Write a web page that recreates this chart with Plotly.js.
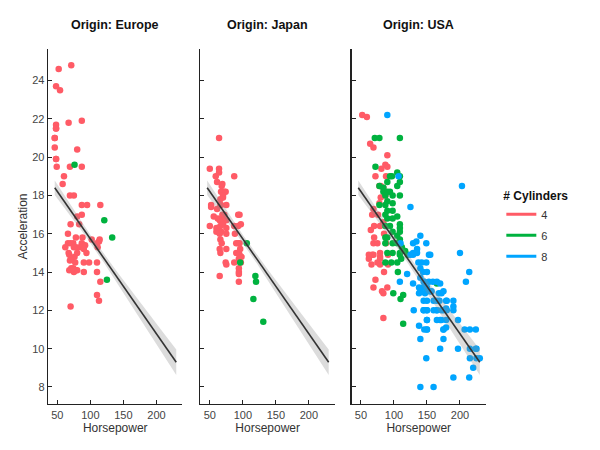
<!DOCTYPE html>
<html><head><meta charset="utf-8">
<script src="https://cdn.plot.ly/plotly-3.0.1.min.js"></script>
<style>html,body{margin:0;padding:0;background:#fff}#chart{width:600px;height:450px}</style>
</head><body><div id="chart"></div>
<script>
const origins = ['Europe', 'Japan', 'USA'];
const cylinderLabels = ['4', '6', '8'];
const cylinderColors = ['#ff5b66', '#00b23f', '#00a5ff'];
const xTicks = [50, 100, 150, 200];
const yTicks = [8, 10, 12, 14, 16, 18, 20, 22, 24];

// Europe
const europe4Hp  = [52,71,48,54,48,48,46,46,48,49,67,87,80,69,87,60,58,69,75,87,95,115,80,87,83,70,66,78,102,114,113,110,111,62,66,74,78,87,92,84,90,94,70,75,80,68,71,77,69,71,75,78,80,68,74,90,98,90,110,110,115,110,113,70,76,67,88,46,48,48];
const europe4Acc = [24.6,24.8,23.7,23.5,21.7,21.5,21.0,20.5,19.9,19.5,21.8,21.9,20.4,19.5,19.5,19.0,18.6,18.0,18.0,17.5,17.5,17.5,16.9,17.0,16.5,16.5,16.0,15.8,15.7,15.7,15.6,15.5,15.3,15.3,15.5,15.5,15.3,15.5,15.4,15.3,15.2,15.0,15.5,15.3,15.0,14.9,14.7,14.5,14.6,14.2,14.0,14.1,14.1,14.1,14.2,14.5,14.5,14.0,14.5,14.0,13.5,12.8,12.5,12.2,14.8,15.0,15.8,21.0,21.5,19.9];
const europe6Hp  = [76,121,133,125];
const europe6Acc = [19.6,16.7,15.8,13.6];

// Japan
const japan4Hp  = [64,50,64,87,59,64,61,68,69,72,67,70,66,74,52,52,61,75,66,56,69,72,75,68,65,93,95,50,60,66,75,87,93,60,67,75,65,66,65,75,66,90,93,95,90,94,95,98,94,74,75,87,94,94,94,94,65,70,72,67,70,68,62,97,88,97,96];
const japan4Acc = [21.0,19.4,19.4,19.0,19.0,19.2,18.7,18.5,18.6,18.2,18.2,17.9,17.8,18.2,17.5,17.4,17.3,17.5,17.5,16.9,17.0,16.7,16.7,16.7,16.7,17.0,17.0,16.4,16.3,16.4,16.3,16.4,16.4,16.1,16.1,16.0,16.0,15.7,15.2,15.2,15.0,15.5,15.5,15.5,15.0,15.0,14.9,14.8,14.7,14.5,14.4,14.5,14.2,14.0,13.9,13.5,13.8,16.5,17.0,17.5,18.0,15.5,16.8,16.5,16.0,14.5,15.2];
const japan6Hp  = [106,96,119,120,116,131];
const japan6Acc = [15.5,14.5,13.8,13.5,12.6,11.4];

// USA
const usa4Hp  = [52,59,64,69,90,87,90,81,72,78,84,80,87,78,69,67,76,70,65,79,84,69,67,69,79,79,62,62,79,91,91,66,75,79,85,72,69,90,84,82,84,70,75,85,88,80,88];
const usa4Acc = [22.2,22.1,20.7,20.5,20.1,19.6,19.5,19.4,19.0,18.5,18.4,18.5,18.0,17.6,17.3,17.0,17.0,16.4,16.2,16.4,16.6,15.5,14.9,14.9,15.0,14.8,14.9,14.7,14.7,14.9,14.4,14.4,14.5,14.4,14.0,13.6,13.2,13.2,12.9,13.0,11.6,15.8,15.5,16.0,15.5,17.9,19.0];
const usa6Hp  = [71,78,109,72,94,97,105,109,109,105,90,78,84,84,90,94,87,98,109,90,78,87,98,87,90,98,105,90,98,87,94,109,109,109,98,87,90,105,109,87,98,105,112,90,98,109,117,109,121,111,87,96,105,106,99,110,114,114,165];
const usa6Acc = [21.0,21.0,21.0,19.5,19.0,19.0,19.2,19.0,18.7,18.5,18.7,18.5,18.4,18.2,18.2,18.2,18.0,18.0,18.0,17.7,17.5,17.5,17.6,17.0,17.2,17.2,16.9,16.8,16.8,16.4,16.4,16.5,16.3,16.1,16.1,15.8,15.8,15.9,15.7,15.5,15.5,15.5,15.3,15.0,15.0,15.0,15.1,14.9,14.9,14.7,14.5,14.5,14.5,14.0,12.9,12.6,12.8,11.3,13.4];
const usa8Hp  = [90,203,107,125,140,149,200,129,135,125,129,155,110,129,137,149,140,144,150,120,109,129,140,146,153,159,165,170,138,144,150,138,147,157,168,172,145,150,169,179,190,190,130,145,150,165,172,179,197,165,172,179,150,138,150,146,175,179,207,215,224,140,175,170,197,224,149,230,220,190,214,140,160,214,209,134,135,153,155,160,175,165,140,150,145,142,180,175,150,150,150,175,180,170,190,215,225,165,145,150,160,155,215,225];
const usa8Acc = [22.2,18.5,19.0,17.4,15.9,15.5,15.0,15.5,15.2,14.9,14.9,14.9,15.5,15.0,14.5,14.5,14.2,14.0,14.0,13.9,13.5,13.4,13.7,13.5,13.5,13.5,13.5,13.4,13.2,13.2,13.2,12.9,12.9,13.0,12.9,12.9,12.5,12.5,12.5,12.5,12.5,12.2,12.0,12.0,12.0,12.0,12.0,12.1,11.5,11.5,11.5,11.5,11.5,11.2,11.0,11.0,11.0,11.1,11.0,11.0,11.0,10.5,10.5,10.0,10.0,10.0,9.5,9.5,9.0,8.5,8.5,8.0,8.0,14.0,13.5,15.6,15.0,14.9,13.0,12.5,12.0,12.5,13.0,13.0,13.5,14.5,12.5,13.0,11.5,12.0,11.0,11.0,12.0,11.5,12.0,10.0,10.0,12.0,12.0,13.0,12.0,13.0,9.5,9.5];

const facetData = [
  [[europe4Hp, europe4Acc], [europe6Hp, europe6Acc], [[], []]],
  [[japan4Hp, japan4Acc], [japan6Hp, japan6Acc], [[], []]],
  [[usa4Hp, usa4Acc], [usa6Hp, usa6Acc], [usa8Hp, usa8Acc]]
];

// Linear regression on all cars (with 95% confidence band)
const allX = [], allY = [];
facetData.forEach(f => f.forEach(([xs, ys]) => { xs.forEach((v, i) => { allX.push(v); allY.push(ys[i]); }); }));
const n = allX.length;
const xbar = allX.reduce((a, b) => a + b, 0) / n;
const ybar = allY.reduce((a, b) => a + b, 0) / n;
let sxx = 0, sxy = 0;
for (let i = 0; i < n; i++) { sxx += (allX[i] - xbar) ** 2; sxy += (allX[i] - xbar) * (allY[i] - ybar); }
const slope = sxy / sxx, intercept = ybar - slope * xbar;
let sse = 0;
for (let i = 0; i < n; i++) sse += (allY[i] - intercept - slope * allX[i]) ** 2;
const sRes = Math.sqrt(sse / (n - 2));
const tCrit = 1.966;
const xMin = Math.min(...allX), xMax = Math.max(...allX);
const gridX = [], fitY = [], upY = [], loY = [];
for (let k = 0; k <= 80; k++) {
  const x = xMin + (xMax - xMin) * k / 80;
  const yhat = intercept + slope * x;
  const se = sRes * Math.sqrt(1 / n + (x - xbar) ** 2 / sxx);
  gridX.push(x); fitY.push(yhat); upY.push(yhat + tCrit * se); loY.push(yhat - tCrit * se);
}
const bandX = gridX.concat(gridX.slice().reverse());
const bandY = upY.concat(loY.slice().reverse());

const traces = [];
facetData.forEach((facet, fi) => {
  const xa = fi === 0 ? 'x' : 'x' + (fi + 1);
  const ya = fi === 0 ? 'y' : 'y' + (fi + 1);
  facet.forEach(([xs, ys], ci) => {
    if (!xs.length) return;
    traces.push({type: 'scatter', mode: 'markers', x: xs, y: ys, xaxis: xa, yaxis: ya,
      marker: {color: cylinderColors[ci], size: 6.5, line: {width: 0}},
      showlegend: false, legendgroup: cylinderLabels[ci], hoverinfo: 'x+y'});
  });
  traces.push({type: 'scatter', mode: 'lines', x: bandX, y: bandY, xaxis: xa, yaxis: ya,
    fill: 'toself', fillcolor: 'rgba(140,140,140,0.3)', line: {width: 0}, showlegend: false, hoverinfo: 'skip'});
  traces.push({type: 'scatter', mode: 'lines', x: gridX, y: fitY, xaxis: xa, yaxis: ya,
    line: {color: '#333333', width: 1.6}, showlegend: false, hoverinfo: 'skip'});
});
cylinderLabels.forEach((c, ci) => {
  traces.push({type: 'scatter', mode: 'lines', x: [null], y: [null], name: c, legendgroup: c,
    line: {color: cylinderColors[ci], width: 3}, showlegend: true, xaxis: 'x3', yaxis: 'y3'});
});

const domains = [[0, 0.307], [0.348, 0.655], [0.693, 1.0]];
const font = {family: 'Liberation Sans, Arial, Helvetica, sans-serif', size: 11, color: '#333'};
const layout = {
  width: 600, height: 450,
  margin: {l: 48, r: 114, t: 49, b: 46},
  paper_bgcolor: '#fff', plot_bgcolor: '#fff',
  font: font,
  showlegend: true,
  legend: {x: 1.035, xanchor: 'left', y: 0.619, yanchor: 'top',
    title: {text: '<b># Cylinders</b>', font: {size: 12, color: '#111'}},
    font: {size: 11, color: '#333'}, itemwidth: 30, tracegroupgap: 2},
  annotations: origins.map((o, i) => ({
    text: '<b>Origin: ' + o + '</b>', xref: 'paper', yref: 'paper',
    x: (domains[i][0] + domains[i][1]) / 2, y: 1.068, xanchor: 'center', yanchor: 'middle',
    showarrow: false, font: {size: 12.5, color: '#111'}
  }))
};
domains.forEach((d, i) => {
  const sfx = i === 0 ? '' : String(i + 1);
  layout['xaxis' + sfx] = {
    domain: d, range: [35.8, 239.4], anchor: 'y' + sfx,
    showline: true, linecolor: '#222', linewidth: 1.3, mirror: false,
    ticks: 'inside', ticklen: 4, tickcolor: '#222', tickwidth: 1,
    tickvals: xTicks, showgrid: false, zeroline: false,
    tickfont: {size: 11, color: '#444'},
    title: {text: 'Horsepower', font: {size: 12, color: '#333'}, standoff: 0}
  };
  layout['yaxis' + sfx] = {
    domain: [0, 1], range: [7.11, 25.65], anchor: 'x' + sfx,
    showline: true, linecolor: '#222', linewidth: 1.3,
    ticks: 'inside', ticklen: 4, tickcolor: '#222', tickwidth: 1,
    tickvals: yTicks, showgrid: false, zeroline: false,
    showticklabels: i === 0,
    tickfont: {size: 11, color: '#444'},
    title: i === 0 ? {text: 'Acceleration', font: {size: 12, color: '#333'}, standoff: 2} : {text: ''}
  };
});

Plotly.newPlot('chart', traces, layout, {displayModeBar: false, staticPlot: true});
</script>
</body></html>
